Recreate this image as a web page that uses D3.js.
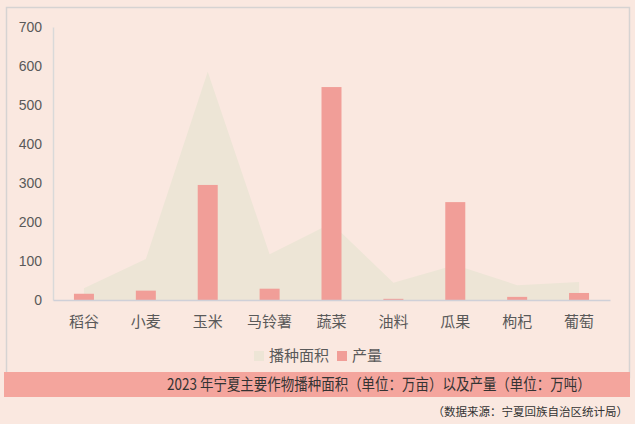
<!DOCTYPE html>
<html>
<head>
<meta charset="utf-8">
<script src="https://cdn.jsdelivr.net/npm/d3@7"></script>
<style>
  html, body { margin: 0; padding: 0; background: #fae8e0; }
  svg { display: block; }
</style>
</head>
<body>
<div id="chart"></div>
<script>
var crops = ["稻谷", "小麦", "玉米", "马铃薯", "蔬菜", "油料", "瓜果", "枸杞", "葡萄"];
var sownArea = [30, 105, 585, 117, 197, 44, 90, 38, 46];
var output = [16, 24, 295, 29, 546, 3, 251, 8, 18];
var yTicks = [0, 100, 200, 300, 400, 500, 600, 700];
var legendNames = ["播种面积", "产量"];
var titleText = "2023 年宁夏主要作物播种面积（单位：万亩）以及产量（单位：万吨）";
var sourceText = "（数据来源：宁夏回族自治区统计局）";

var w = 635, h = 424;
var cjk = "'Noto Sans CJK SC', 'Noto Sans', sans-serif";
var areaColor = "#ede5d6", barColor = "#f19e98";

var svg = d3.select("#chart")
            .append("svg")
            .attr("width", w)
            .attr("height", h);

svg.append("rect")
   .attr("width", w).attr("height", h)
   .attr("fill", "#fae8e0");

// outer frame
svg.append("rect")
   .attr("x", 6.5).attr("y", 7.5)
   .attr("width", 623).attr("height", 370)
   .attr("fill", "none")
   .attr("stroke", "#d6d3d2")
   .attr("stroke-width", 1.5);

var xScale = d3.scaleBand()
               .domain(crops)
               .range([53, 610]);

var yScale = d3.scaleLinear()
               .domain([0, 700])
               .range([300, 27]);

var cx = function(d) { return xScale(d) + xScale.bandwidth() / 2; };

// area series
var area = d3.area()
             .x(function(d, i) { return cx(crops[i]); })
             .y0(yScale(0))
             .y1(function(d) { return yScale(d); });

svg.append("path")
   .datum(sownArea)
   .attr("d", area)
   .attr("fill", areaColor);

// bars
svg.selectAll("rect.bar")
   .data(output)
   .enter()
   .append("rect")
   .attr("class", "bar")
   .attr("x", function(d, i) { return cx(crops[i]) - 10; })
   .attr("y", function(d) { return yScale(d); })
   .attr("width", 20)
   .attr("height", function(d) { return yScale(0) - yScale(d); })
   .attr("fill", barColor);

// y axis
var yAxis = svg.append("g")
   .attr("transform", "translate(53,0)")
   .call(d3.axisLeft(yScale).tickValues(yTicks).tickSize(0).tickSizeOuter(0).tickPadding(11));
yAxis.select(".domain").attr("stroke", "#d9d9d9").attr("stroke-width", 1.5);
yAxis.selectAll("text")
     .attr("font-family", "'Liberation Sans', Arial, sans-serif")
     .attr("font-size", "14px")
     .attr("fill", "#595959");

// x axis
var xAxis = svg.append("g")
   .attr("transform", "translate(0,300)")
   .call(d3.axisBottom(xScale).tickSize(0).tickSizeOuter(0).tickPadding(16));
xAxis.select(".domain").attr("stroke", "#cfd0d8").attr("stroke-width", 1.5);
xAxis.selectAll("text")
     .attr("font-family", cjk)
     .attr("font-size", "15px")
     .attr("fill", "#595959");

// legend
var legend = svg.append("g");
var legendX = [254, 337];
var legendColors = [areaColor, barColor];
legendNames.forEach(function(name, i) {
  legend.append("rect")
        .attr("x", legendX[i]).attr("y", 351)
        .attr("width", 10).attr("height", 10)
        .attr("fill", legendColors[i]);
  legend.append("text")
        .attr("x", legendX[i] + 15).attr("y", 361)
        .attr("font-family", cjk)
        .attr("font-size", "15px")
        .attr("fill", "#595959")
        .text(name);
});

// title band
svg.append("rect")
   .attr("x", 4).attr("y", 372)
   .attr("width", 626).attr("height", 25)
   .attr("fill", "#f4a59d");

// title is horizontally condensed in the original
svg.append("text")
   .attr("transform", "translate(167,390) scale(0.87,1)")
   .attr("font-family", cjk)
   .attr("font-size", "15.5px")
   .attr("fill", "#333333")
   .text(titleText);

svg.append("text")
   .attr("x", 628).attr("y", 416)
   .attr("text-anchor", "end")
   .attr("font-family", cjk)
   .attr("font-size", "11.5px")
   .attr("fill", "#333333")
   .text(sourceText);
</script>
</body>
</html>
